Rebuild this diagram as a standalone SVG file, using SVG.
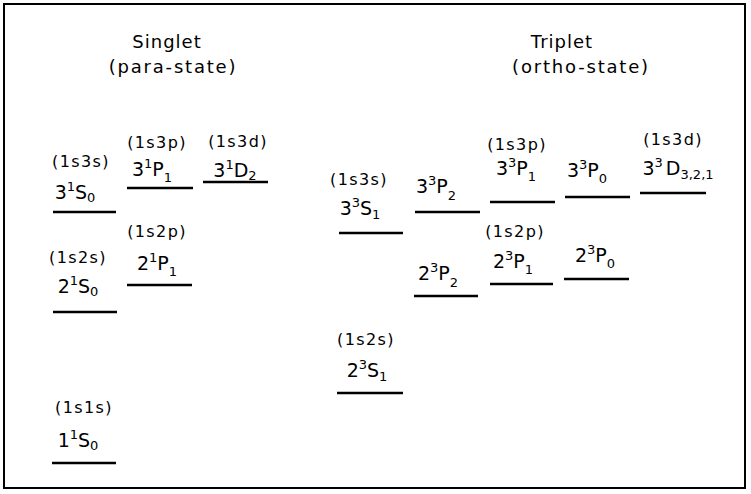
<svg xmlns="http://www.w3.org/2000/svg" width="751" height="494" viewBox="0 0 751 494">
<style>
text{font-family:"DejaVu Sans","Liberation Sans",sans-serif;fill:#000;text-anchor:middle}
.title{font-size:18px;letter-spacing:1px}
.sub{font-size:18px;letter-spacing:1.8px}
.cfg{font-size:16px;letter-spacing:1.4px}
.term{font-size:19px}
.s{font-size:13px}
.lvl{stroke:#000;stroke-width:2.5;fill:none}
.frame{stroke:#000;stroke-width:2;fill:#fff}
</style>
<rect class="frame" x="4" y="4" width="741" height="484"/>
<g id="titles">
<text class="title" x="167" y="48">Singlet</text>
<text class="sub" x="173" y="73">(para-state)</text>
<text class="title" x="562" y="48">Triplet</text>
<text class="sub" x="581" y="73">(ortho-state)</text>
</g>
<g id="levels">
<g id="s1S0"><text class="cfg" x="84" y="413">(1s1s)</text><text class="term" x="78" y="447">1<tspan class="s" dy="-8">1</tspan><tspan dy="8">S</tspan><tspan class="s" dy="3">0</tspan></text><line class="lvl" x1="52" y1="463" x2="116" y2="463"/></g>
<g id="s2S0"><text class="cfg" x="78" y="263">(1s2s)</text><text class="term" x="78" y="293">2<tspan class="s" dy="-8">1</tspan><tspan dy="8">S</tspan><tspan class="s" dy="3">0</tspan></text><line class="lvl" x1="53" y1="312" x2="117" y2="312"/></g>
<g id="s3S0"><text class="cfg" x="81" y="167">(1s3s)</text><text class="term" x="75" y="199">3<tspan class="s" dy="-8">1</tspan><tspan dy="8">S</tspan><tspan class="s" dy="3">0</tspan></text><line class="lvl" x1="53" y1="212" x2="116" y2="212"/></g>
<g id="s2P1"><text class="cfg" x="157" y="237">(1s2p)</text><text class="term" x="157" y="270">2<tspan class="s" dy="-8">1</tspan><tspan dy="8">P</tspan><tspan class="s" dy="6">1</tspan></text><line class="lvl" x1="127" y1="285" x2="192" y2="285"/></g>
<g id="s3P1"><text class="cfg" x="157" y="148">(1s3p)</text><text class="term" x="152" y="176">3<tspan class="s" dy="-8">1</tspan><tspan dy="8">P</tspan><tspan class="s" dy="6">1</tspan></text><line class="lvl" x1="127" y1="188" x2="193" y2="188"/></g>
<g id="s3D2"><text class="cfg" x="238" y="147">(1s3d)</text><text class="term" x="235" y="177">3<tspan class="s" dy="-8">1</tspan><tspan dy="8">D</tspan><tspan class="s" dy="3">2</tspan></text><line class="lvl" x1="203" y1="182" x2="268" y2="182"/></g>

<g id="t3S1"><text class="cfg" x="359" y="185">(1s3s)</text><text class="term" x="360" y="215">3<tspan class="s" dy="-8">3</tspan><tspan dy="8">S</tspan><tspan class="s" dy="4">1</tspan></text><line class="lvl" x1="339" y1="233" x2="403" y2="233"/></g>
<g id="t3P2"><text class="term" x="436" y="193">3<tspan class="s" dy="-8">3</tspan><tspan dy="8">P</tspan><tspan class="s" dy="7">2</tspan></text><line class="lvl" x1="415" y1="212" x2="480" y2="212"/></g>
<g id="t3P1"><text class="cfg" x="517" y="150">(1s3p)</text><text class="term" x="516" y="175">3<tspan class="s" dy="-8">3</tspan><tspan dy="8">P</tspan><tspan class="s" dy="6">1</tspan></text><line class="lvl" x1="490" y1="202" x2="555" y2="202"/></g>
<g id="t3P0"><text class="term" x="587" y="177">3<tspan class="s" dy="-8">3</tspan><tspan dy="8">P</tspan><tspan class="s" dy="6">0</tspan></text><line class="lvl" x1="565" y1="197" x2="630" y2="197"/></g>
<g id="t3D"><text class="cfg" x="673" y="145">(1s3d)</text><text class="term" x="678" y="175">3<tspan class="s" dy="-8">3</tspan><tspan dy="8" dx="3">D</tspan><tspan class="s" dy="4">3,2,1</tspan></text><line class="lvl" x1="640" y1="193" x2="706" y2="193"/></g>
<g id="t2P2"><text class="term" x="438" y="280">2<tspan class="s" dy="-8">3</tspan><tspan dy="8">P</tspan><tspan class="s" dy="7">2</tspan></text><line class="lvl" x1="414" y1="296" x2="478" y2="296"/></g>
<g id="t2P1"><text class="cfg" x="515" y="237">(1s2p)</text><text class="term" x="513" y="268">2<tspan class="s" dy="-8">3</tspan><tspan dy="8">P</tspan><tspan class="s" dy="6">1</tspan></text><line class="lvl" x1="490" y1="284" x2="553" y2="284"/></g>
<g id="t2P0"><text class="term" x="595" y="262">2<tspan class="s" dy="-8">3</tspan><tspan dy="8">P</tspan><tspan class="s" dy="6">0</tspan></text><line class="lvl" x1="564" y1="279" x2="629" y2="279"/></g>
<g id="t2S1"><text class="cfg" x="366" y="345">(1s2s)</text><text class="term" x="367" y="377">2<tspan class="s" dy="-8">3</tspan><tspan dy="8">S</tspan><tspan class="s" dy="4">1</tspan></text><line class="lvl" x1="337" y1="393" x2="403" y2="393"/></g>
</g>
<g id="connectors"/>
</svg>
